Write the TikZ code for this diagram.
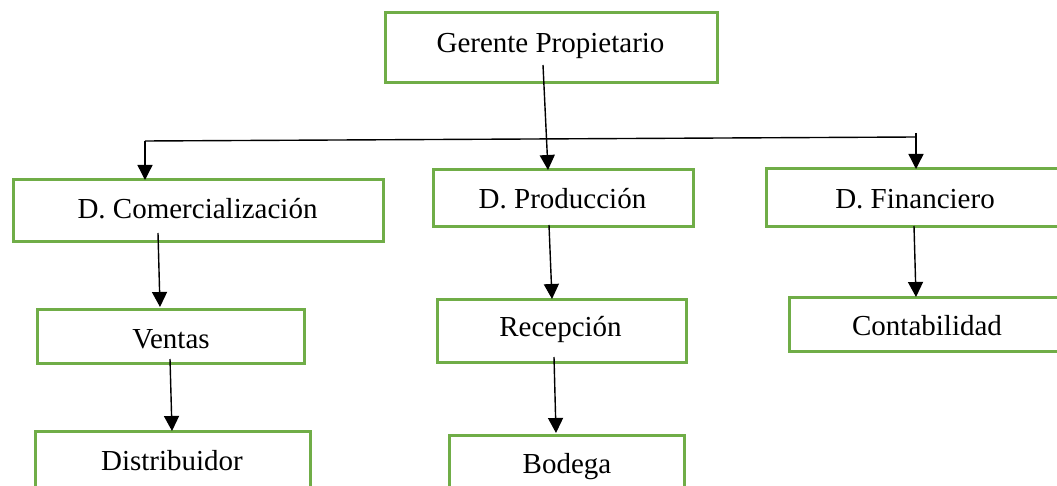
\documentclass[tikz,border=0pt]{standalone}
\usepackage{fontspec}
\setmainfont{Liberation Serif}
\usetikzlibrary{arrows.meta,calc}
\definecolor{boxgreen}{HTML}{70AD47}
\tikzset{
  orgbox/.style={draw=boxgreen, line width=3pt, fill=white, inner sep=0pt, outer sep=0pt},
  boxtext/.style={anchor=base, inner sep=0pt, font=\fontsize{29}{34}\selectfont},
  arr/.style={line width=1.4pt, -{Triangle[width=15pt,length=15pt]}},
  ln/.style={line width=1.4pt}
}
\begin{document}
\begin{tikzpicture}[x=1pt,y=-1pt]
\path[use as bounding box, clip] (0,0) rectangle (1057,486);
\fill[white] (0,0) rectangle (1057,486);
% boxes
\node[orgbox, minimum width=332pt, minimum height=70pt] (g) at (551,48) {};
\node[orgbox, minimum width=370pt, minimum height=62pt] (dc) at (198,211) {};
\node[orgbox, minimum width=260pt, minimum height=57pt] (dp) at (563,198.5) {};
\node[orgbox, minimum width=298pt, minimum height=58pt] (df) at (915,198) {};
\node[orgbox, minimum width=267pt, minimum height=54pt] (v) at (170.5,336) {};
\node[orgbox, minimum width=275pt, minimum height=62pt] (dis) at (172.5,462) {};
\node[orgbox, minimum width=249pt, minimum height=63pt] (r) at (561.5,330.5) {};
\node[orgbox, minimum width=235pt, minimum height=62pt] (b) at (566.5,466) {};
\node[orgbox, minimum width=276pt, minimum height=54pt] (c) at (927,324) {};
% texts
\node[boxtext] (gt) at (550.5,53) {Gerente Propietario};
\node[boxtext] (dct) at (197.5,219) {D. Comercialización};
\node[boxtext] (dpt) at (562.5,209) {D. Producción};
\node[boxtext] (dft) at (915,208.5) {D. Financiero};
\node[boxtext] (vt) at (171,348) {Ventas};
\node[boxtext] (dist) at (172,470) {Distribuidor};
\node[boxtext] (rt) at (560.5,336.5) {Recepción};
\node[boxtext] (bt) at (567,473) {Bodega};
\node[boxtext] (ct) at (927,335) {Contabilidad};
% branch line
\coordinate (hl) at ($(dc.north)+(-53,-39)$);
\coordinate (hr) at ($(df.north)+(1,-32)$);
\coordinate (ht) at ($(df.north)+(1,-36)$);
\draw[ln] (hl) -- (hr);
\draw[arr] (hl) -- ($(dc.north)+(-53,0)$);
\draw[arr] (ht) -- ($(df.north)+(1,0)$);
% arrows
\draw[arr] ($(g.south)+(-8,-18)$) -- ($(dp.north)+(-15,0)$);
\draw[arr] ($(dc.south)+(-40,-9)$) -- ($(v.north)+(-10.5,-2)$);
\draw[arr] ($(v.south)+(-0.5,-4)$) -- ($(dis.north)+(-0.5,0)$);
\draw[arr] ($(dp.south)+(-14,-2)$) -- ($(r.north)+(-9.5,0)$);
\draw[arr] ($(r.south)+(-7.5,-5)$) -- ($(b.north)+(-10.5,-2)$);
\draw[arr] ($(df.south)+(-1,-1)$) -- ($(c.north)+(-11,0)$);
\end{tikzpicture}
\end{document}
